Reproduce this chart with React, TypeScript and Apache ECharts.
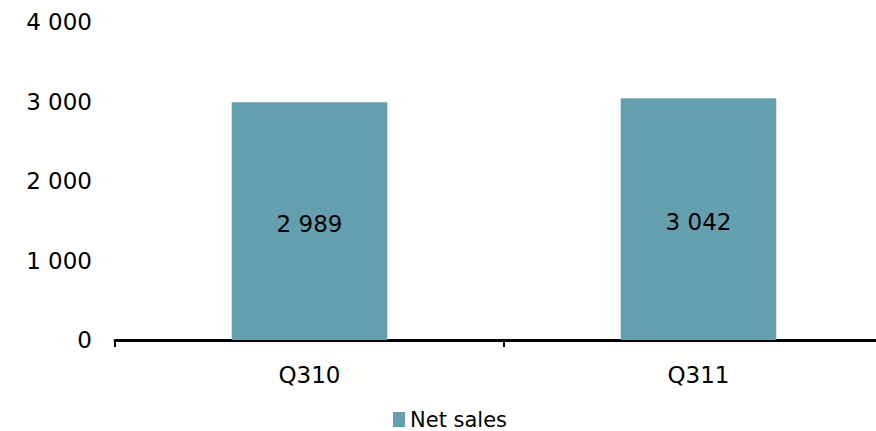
import React, { useEffect, useRef } from "react";
import * as echarts from "echarts";

const categories = ["Q310", "Q311"];
const netSales = [2989, 3042];
const yTicks = [0, 1000, 2000, 3000, 4000];

const fmt = (v: number) => String(v).replace(/\B(?=(\d{3})+(?!\d))/g, " ");

export default function App() {
  const ref = useRef<HTMLDivElement>(null);
  useEffect(() => {
    const chart = echarts.init(ref.current!, null, { renderer: "svg" });
    const font = "DejaVu Sans";
    chart.setOption({
      animation: false,
      grid: { left: 115, right: 0, top: 22, bottom: 91 },
      legend: {
        top: 404,
        left: 388,
        icon: "rect",
        itemWidth: 12,
        itemHeight: 15,
        itemGap: 6,
        textStyle: { fontFamily: font, fontSize: 21, color: "#000" },
        data: ["Net sales"],
      },
      xAxis: {
        type: "category",
        data: categories,
        axisLine: { lineStyle: { color: "#000", width: 3 } },
        axisTick: { show: true, length: 7, lineStyle: { color: "#000", width: 2 } },
        axisLabel: { fontFamily: font, fontSize: 23, color: "#000", margin: 23 },
      },
      yAxis: {
        type: "value",
        min: yTicks[0],
        max: yTicks[yTicks.length - 1],
        interval: 1000,
        axisLine: { show: false },
        axisTick: { show: false },
        splitLine: { show: false },
        axisLabel: {
          fontFamily: font,
          fontSize: 23,
          color: "#000",
          margin: 23,
          padding: [4, 0, 0, 0],
          formatter: (v: number) => fmt(v),
        },
      },
      series: [
        {
          name: "Net sales",
          type: "bar",
          data: netSales,
          barWidth: "40%",
          itemStyle: { color: "#639fae" },
          label: {
            show: true,
            position: "inside",
            offset: [0, 3],
            fontFamily: font,
            fontSize: 23,
            color: "#000",
            formatter: (p: any) => fmt(p.value),
          },
        },
      ],
    });
    return () => chart.dispose();
  }, []);
  return (
    <div style={{ position: "fixed", left: 0, top: 0, width: 876, height: 431, overflow: "hidden", background: "#fff" }}>
      <div ref={ref} style={{ width: 893, height: 431 }} />
    </div>
  );
}
